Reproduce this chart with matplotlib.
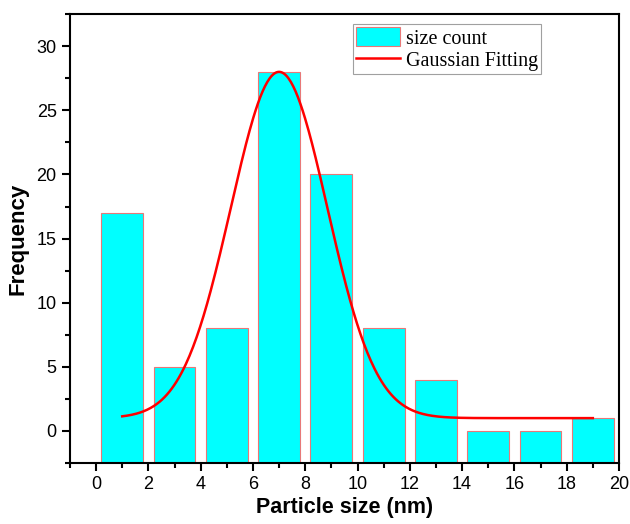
import numpy as np
import matplotlib.pyplot as plt
from matplotlib.ticker import MultipleLocator

# histogram of particle sizes
bin_centers = [1, 3, 5, 7, 9, 11, 13, 15, 17, 19]
counts = [17, 5, 8, 28, 20, 8, 4, 0, 0, 1]

# gaussian fit parameters (y0 + A*exp(-(x-xc)^2/(2 s^2)))
fit_y0 = 1.0
fit_A = 27.0
fit_xc = 7.0
fit_sigma = 1.85
fit_range = (1, 19)

plt.rcParams['font.family'] = 'Liberation Sans'

fig = plt.figure(figsize=(6.3, 5.24), dpi=100)
ax = fig.add_axes([0.111, 0.1164, 0.8715, 0.8566])

base = -2.5
bars = ax.bar(bin_centers, [c - base for c in counts], bottom=base, width=1.6,
              color='#00ffff', edgecolor='#e87878', linewidth=0.8, label='size count')

x = np.linspace(fit_range[0], fit_range[1], 400)
y = fit_y0 + fit_A * np.exp(-(x - fit_xc) ** 2 / (2 * fit_sigma ** 2))
line, = ax.plot(x, y, color='red', linewidth=1.8, label='Gaussian Fitting')

ax.set_xlim(-1, 20)
ax.set_ylim(-2.5, 32.5)
ax.xaxis.set_major_locator(MultipleLocator(2))
ax.xaxis.set_minor_locator(MultipleLocator(1))
ax.yaxis.set_major_locator(MultipleLocator(5))
ax.yaxis.set_minor_locator(MultipleLocator(2.5))
ax.tick_params(which='both', direction='out', width=1.5, top=False, right=False, labelsize=13)
ax.tick_params(which='major', length=6)
ax.tick_params(which='minor', length=3.5)
for s in ax.spines.values():
    s.set_linewidth(1.5)

ax.set_xlabel('Particle size (nm)', fontsize=15.5, fontweight='bold', labelpad=3)
ax.set_ylabel('Frequency', fontsize=16, fontweight='bold', labelpad=6)

leg = ax.legend([bars, line], ['size count', 'Gaussian Fitting'],
                loc='upper left', bbox_to_anchor=(0.515, 0.978), frameon=True,
                fancybox=False, edgecolor='#888888', borderpad=0.15,
                handlelength=2.2, handleheight=1.1, handletextpad=0.3, labelspacing=0.05,
                borderaxespad=0, prop={'family': 'Liberation Serif', 'size': 14.5})
leg.get_frame().set_linewidth(0.8)

fig.savefig('out.png', dpi=100)
